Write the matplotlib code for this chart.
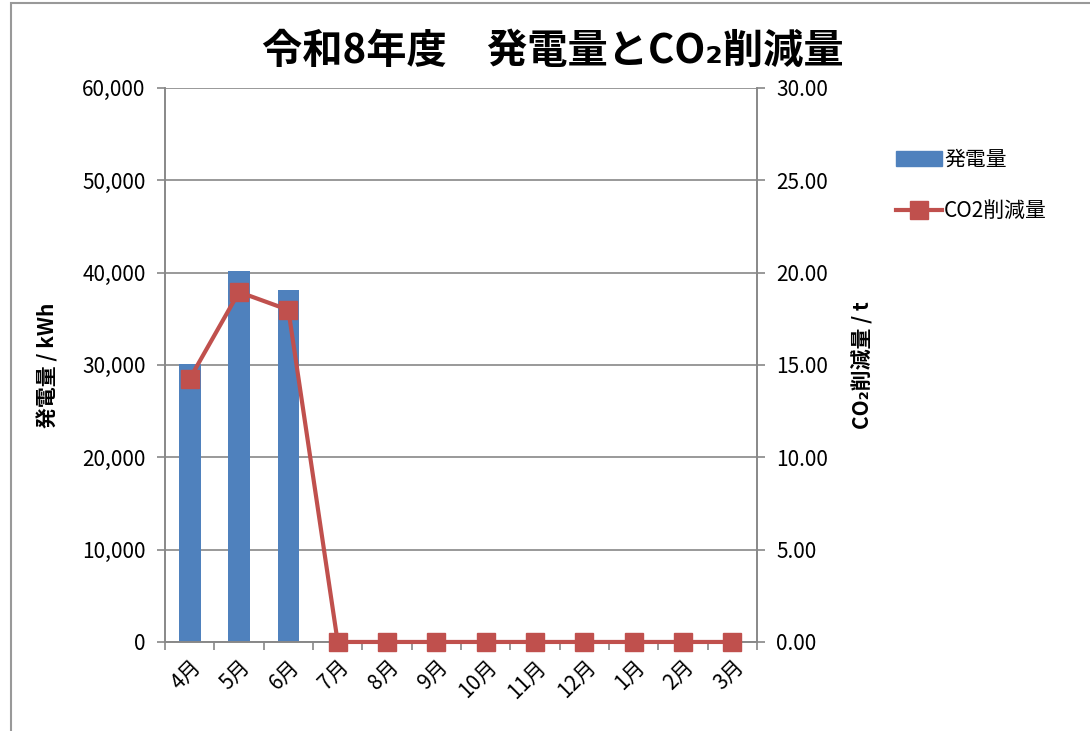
import numpy as np
import matplotlib
matplotlib.use('Agg')
import matplotlib.pyplot as plt
from matplotlib.patches import Rectangle
from matplotlib.lines import Line2D

plt.rcParams['font.family'] = ['Noto Sans CJK JP', 'DejaVu Sans']

months = ['4月', '5月', '6月', '7月', '8月', '9月', '10月', '11月', '12月', '1月', '2月', '3月']
power_kwh = [30100, 40200, 38150, 0, 0, 0, 0, 0, 0, 0, 0, 0]
co2_t = [14.25, 18.95, 17.98, 0, 0, 0, 0, 0, 0, 0, 0, 0]
left_ticks = [0, 10000, 20000, 30000, 40000, 50000, 60000]
right_ticks = [0, 5, 10, 15, 20, 25, 30]

bar_col = '#4F81BD'
line_col = '#C0504D'
grid_col = '#888888'

fig = plt.figure(figsize=(10.9, 7.31), dpi=100)
ax = fig.add_axes([0.1514, 0.1218, 0.5431, 0.7579])
ax2 = ax.twinx()

x = np.arange(len(months))
ax.bar(x, power_kwh, width=0.44, color=bar_col, zorder=2)
ax.set_xlim(-0.5, len(months) - 0.5)
ax.set_ylim(0, 60000)
ax.set_yticks(left_ticks)
ax.set_yticklabels(['{:,}'.format(v) for v in left_ticks], fontsize=15)
ax.yaxis.grid(True, color=grid_col, linewidth=1.2, zorder=0)
ax.set_axisbelow(True)

ax.set_xticks(x)
ax.set_xticklabels(months, rotation=45, ha='right', rotation_mode='anchor', fontsize=15)
ax.tick_params(axis='x', which='major', length=0, pad=10)
ax.set_xticks(np.arange(-0.5, len(months)), minor=True)
ax.tick_params(axis='x', which='minor', length=6, color=grid_col, width=1.2)
ax.tick_params(axis='y', length=6, color=grid_col, width=1.2, pad=8)

ax2.plot(x, co2_t, color=line_col, linewidth=3, marker='s', markersize=13, zorder=3, clip_on=False)
ax2.set_ylim(0, 30)
ax2.set_yticks(right_ticks)
ax2.set_yticklabels(['{:.2f}'.format(v) for v in right_ticks], fontsize=15)
ax2.tick_params(axis='y', length=6, color=grid_col, width=1.2, pad=8)

for a in (ax, ax2):
    a.spines['top'].set_visible(False)
    for s in ('left', 'right', 'bottom'):
        a.spines[s].set_color(grid_col)
        a.spines[s].set_linewidth(1.2)

ax.set_ylabel('発電量 / kWh', fontsize=15, fontweight='bold')
ax.yaxis.set_label_coords(-0.18, 0.5)
ax2.set_ylabel('CO₂削減量 / t', fontsize=15, fontweight='bold', rotation=90)
ax2.yaxis.set_label_coords(1.158, 0.5)

fig.text(0.507, 0.93, '令和8年度　発電量とCO₂削減量', fontsize=29, fontweight='bold',
         ha='center', va='center')

handles = [Rectangle((0, 0), 1, 1, color=bar_col),
           Line2D([], [], color=line_col, linewidth=3, marker='s', markersize=13)]
fig.legend(handles, ['発電量', 'CO2削減量'], loc='upper left', bbox_to_anchor=(0.805, 0.822),
           frameon=False, fontsize=15, handlelength=2.2, labelspacing=1.4, handletextpad=0.1)

# outer chart border
fig.add_artist(Rectangle((0.010, -0.01), 1.0, 1.006, transform=fig.transFigure,
                         fill=False, edgecolor='#999999', linewidth=1.5))

fig.savefig('out.png', dpi=100)
